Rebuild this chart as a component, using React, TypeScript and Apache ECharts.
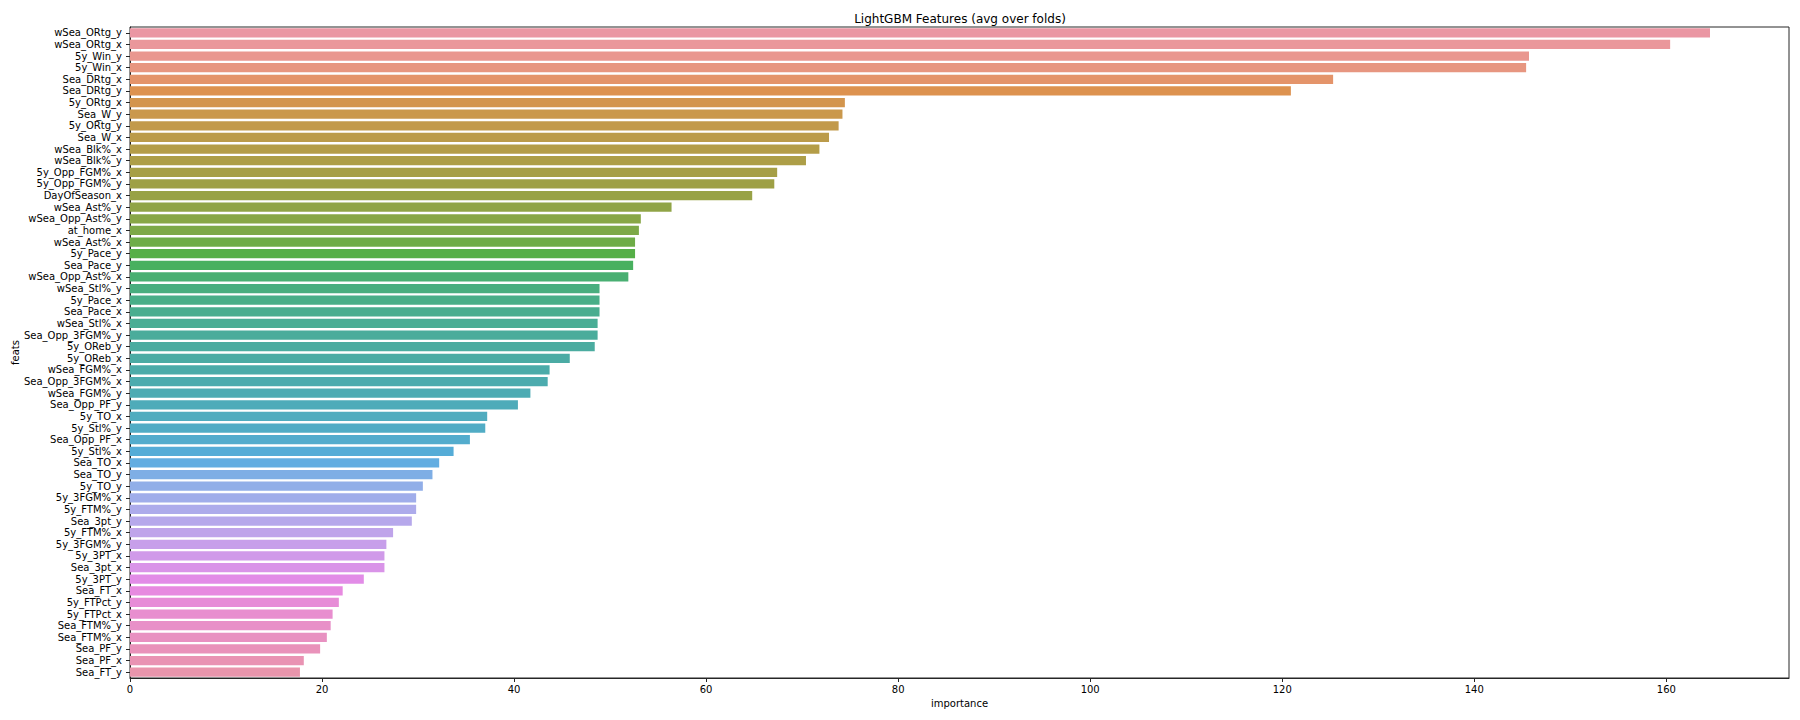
import React, { useEffect, useRef } from "react";
import * as echarts from "echarts";

const features: string[] = [
  "wSea_ORtg_y", "wSea_ORtg_x", "5y_Win_y", "5y_Win_x", "Sea_DRtg_x", "Sea_DRtg_y",
  "5y_ORtg_x", "Sea_W_y", "5y_ORtg_y", "Sea_W_x", "wSea_Blk%_x", "wSea_Blk%_y",
  "5y_Opp_FGM%_x", "5y_Opp_FGM%_y", "DayOfSeason_x", "wSea_Ast%_y", "wSea_Opp_Ast%_y",
  "at_home_x", "wSea_Ast%_x", "5y_Pace_y", "Sea_Pace_y", "wSea_Opp_Ast%_x", "wSea_Stl%_y",
  "5y_Pace_x", "Sea_Pace_x", "wSea_Stl%_x", "Sea_Opp_3FGM%_y", "5y_OReb_y", "5y_OReb_x",
  "wSea_FGM%_x", "Sea_Opp_3FGM%_x", "wSea_FGM%_y", "Sea_Opp_PF_y", "5y_TO_x", "5y_Stl%_y",
  "Sea_Opp_PF_x", "5y_Stl%_x", "Sea_TO_x", "Sea_TO_y", "5y_TO_y", "5y_3FGM%_x", "5y_FTM%_y",
  "Sea_3pt_y", "5y_FTM%_x", "5y_3FGM%_y", "5y_3PT_x", "Sea_3pt_x", "5y_3PT_y", "Sea_FT_x",
  "5y_FTPct_y", "5y_FTPct_x", "Sea_FTM%_y", "Sea_FTM%_x", "Sea_PF_y", "Sea_PF_x", "Sea_FT_y",
];

const importance: number[] = [
  164.55, 160.4, 145.7, 145.4, 125.3, 120.9,
  74.45, 74.2, 73.8, 72.8, 71.8, 70.4,
  67.4, 67.1, 64.8, 56.4, 53.2,
  53.0, 52.6, 52.6, 52.4, 51.9, 48.9,
  48.9, 48.9, 48.7, 48.7, 48.4, 45.8,
  43.7, 43.5, 41.7, 40.4, 37.2, 37.0,
  35.4, 33.7, 32.2, 31.5, 30.5, 29.8, 29.8,
  29.35, 27.4, 26.7, 26.5, 26.5, 24.35, 22.15,
  21.75, 21.1, 20.9, 20.5, 19.8, 18.1, 17.7,
];

const xTicks: number[] = [0, 20, 40, 60, 80, 100, 120, 140, 160];

// ---- HUSL (seaborn husl_palette) colour helpers ----
const M = [
  [3.240969941904521, -1.537383177570093, -0.498610760293],
  [-0.96924363628087, 1.87596750150772, 0.041555057407175],
  [0.055630079696993, -0.20397695888897, 1.056971514242878],
];
const refU = 0.19783000664283;
const refV = 0.46831999493879;
const kappa = 903.2962962;
const epsilon = 0.0088564516;

function maxChroma(L: number, H: number): number {
  const hrad = (H / 360) * 2 * Math.PI;
  const sinH = Math.sin(hrad);
  const cosH = Math.cos(hrad);
  const sub1 = Math.pow(L + 16, 3) / 1560896.0;
  const sub2 = sub1 > epsilon ? sub1 : L / kappa;
  let result = Infinity;
  for (const [m1, m2, m3] of M) {
    const top = (0.99915 * m1 + 1.05122 * m2 + 1.1446 * m3) * sub2;
    const rbottom = 0.8633 * m3 - 0.17266 * m2;
    const lbottom = 0.12949 * m3 - 0.38848 * m1;
    const bottom = (rbottom * sinH + lbottom * cosH) * sub2;
    for (const t of [0, 1]) {
      const C = (L * (top - 1.05122 * t)) / (bottom + 0.17266 * sinH * t);
      if (C > 0 && C < result) result = C;
    }
  }
  return result;
}

function fInv(t: number): number {
  return Math.pow(t, 3) > epsilon ? Math.pow(t, 3) : (116 * t - 16) / kappa;
}

function fromLinear(c: number): number {
  return c <= 0.0031308 ? 12.92 * c : 1.055 * Math.pow(c, 1 / 2.4) - 0.055;
}

function huslToRgb(h: number, s: number, l: number): number[] {
  const C = (maxChroma(l, h) / 100) * s;
  const hrad = (h / 360) * 2 * Math.PI;
  const U = Math.cos(hrad) * C;
  const V = Math.sin(hrad) * C;
  const varY = fInv((l + 16) / 116);
  const varU = U / (13 * l) + refU;
  const varV = V / (13 * l) + refV;
  const Y = varY;
  const X = 0 - (9 * Y * varU) / ((varU - 4) * varV - varU * varV);
  const Z = (9 * Y - 15 * varV * Y - varV * X) / (3 * varV);
  return M.map((row) => {
    const c = fromLinear(row[0] * X + row[1] * Y + row[2] * Z);
    return Math.min(1, Math.max(0, c));
  });
}

function desaturate(rgb: number[], prop: number): number[] {
  const mx = Math.max(...rgb);
  const mn = Math.min(...rgb);
  const l = (mx + mn) / 2;
  return rgb.map((c) => l + (c - l) * prop);
}

function toHex(rgb: number[]): string {
  return (
    "#" +
    rgb
      .map((c) => Math.round(c * 255).toString(16).padStart(2, "0"))
      .join("")
  );
}

function huslPalette(n: number): string[] {
  const out: string[] = [];
  for (let i = 0; i < n; i++) {
    const hue = (((i / n) + 0.01) % 1) * 359;
    const rgb = huslToRgb(hue, 0.9 * 99, 0.7 * 99);
    out.push(toHex(desaturate(rgb, 0.75)));
  }
  return out;
}

const FONT = "DejaVu Sans";
const AXIS_COLOR = "#262626";

export default function App() {
  const ref = useRef<HTMLDivElement>(null);

  useEffect(() => {
    document.body.style.margin = "0";
    if (!ref.current) return;
    const chart = echarts.init(ref.current, undefined, { renderer: "svg" });
    const colors = huslPalette(features.length);
    const xMax = Math.max(...importance) * 1.05;

    chart.setOption({
      animation: false,
      backgroundColor: "#ffffff",
      textStyle: { fontFamily: FONT },
      title: {
        text: "LightGBM Features (avg over folds)",
        left: 955,
        textAlign: "center",
        top: 8,
        textStyle: { fontFamily: FONT, fontSize: 12, fontWeight: "normal", color: "#000" },
      },
      grid: {
        left: 130,
        right: 11,
        top: 27,
        bottom: 42,
        containLabel: false,
        outerBoundsMode: "none",
        show: true,
        borderColor: AXIS_COLOR,
        borderWidth: 1,
        backgroundColor: "transparent",
      },
      xAxis: {
        type: "value",
        min: 0,
        max: xMax,
        interval: 20,
        name: "importance",
        nameLocation: "middle",
        nameGap: 20,
        nameMoveOverlap: false,
        nameTextStyle: { fontFamily: FONT, fontSize: 10, color: "#000" },
        axisLine: { show: true, lineStyle: { color: AXIS_COLOR, width: 1 } },
        axisTick: { show: true, inside: false, length: 4, lineStyle: { color: AXIS_COLOR } },
        axisLabel: {
          fontFamily: FONT,
          fontSize: 10,
          color: "#000",
          margin: 6,
          showMaxLabel: false,
          formatter: (v: number) => (xTicks.includes(v) ? String(v) : ""),
        },
        splitLine: { show: false },
      },
      yAxis: {
        type: "category",
        inverse: true,
        data: features,
        name: "feats",
        nameLocation: "middle",
        nameGap: 110,
        nameRotate: 90,
        nameMoveOverlap: false,
        nameTextStyle: { fontFamily: FONT, fontSize: 10, color: "#000" },
        axisLine: { show: true, lineStyle: { color: AXIS_COLOR, width: 1 } },
        axisTick: { show: true, alignWithLabel: true, inside: false, length: 4, lineStyle: { color: AXIS_COLOR } },
        axisLabel: { fontFamily: FONT, fontSize: 10, color: "#000", margin: 8, interval: 0 },
        splitLine: { show: false },
      },
      series: [
        {
          type: "bar",
          barWidth: "80%",
          data: importance.map((v, i) => ({ value: v, itemStyle: { color: colors[i] } })),
        },
      ],
    });

    return () => chart.dispose();
  }, []);

  return <div ref={ref} style={{ width: 1800, height: 720 }} />;
}
